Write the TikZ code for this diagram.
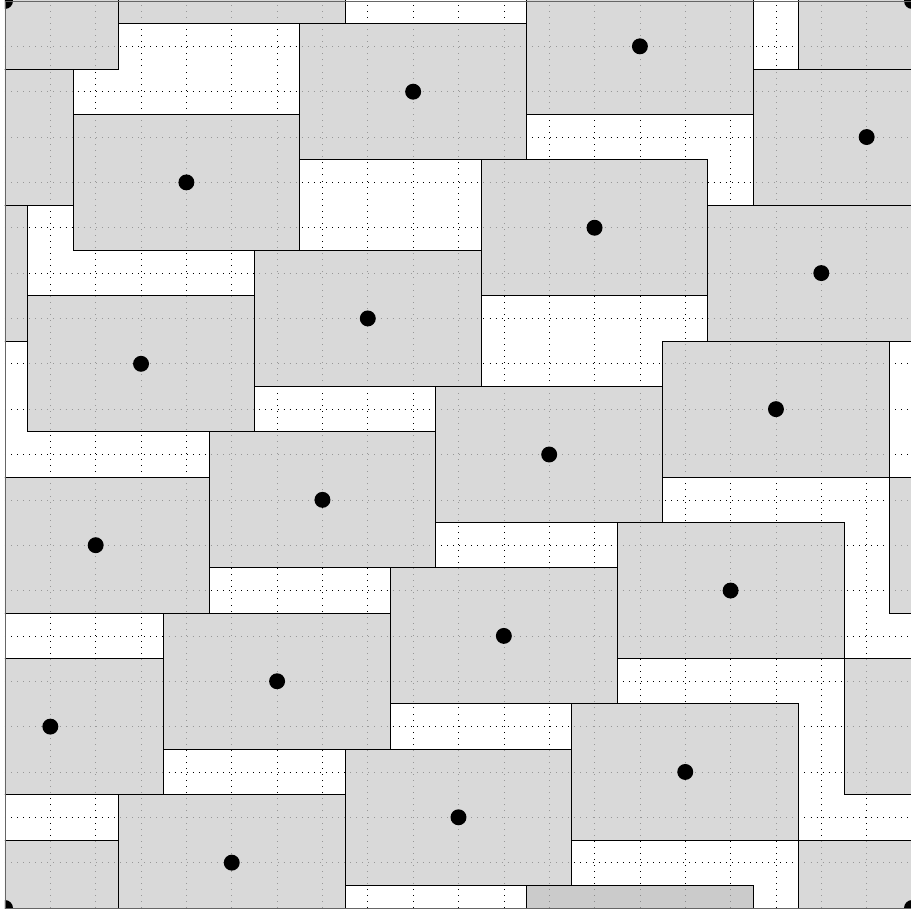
\documentclass[tikz,border=0pt]{standalone}
\begin{document}
\begin{tikzpicture}[
  bloc/.style={draw, semithick, fill=#1, fill opacity=0.75,
               minimum width=5cm, minimum height=3cm, inner sep=0pt,
               path picture={\fill[fill opacity=1, black]
                 (path picture bounding box.center) circle (5pt);}},
  bloc/.default=black!20,
  grille/.style={line width=0.4pt, dash pattern=on 0.4pt off 3.4pt},
  cadre/.style={line width=0.5pt, draw=black!60}
]
  \useasboundingbox (-0.11,-0.11) rectangle (19.956,20.022);

  % Grille pointillée
  \draw[grille] (0,0) grid (20,20);

  \begin{scope}
    \clip (0,0) rectangle (20,20);
    % Blocs 5x3 sur le tore (copies aux bords)
    \node[bloc] (b1)  at (0,20)  {};
    \node[bloc] (b1a) at (20,20) {};
    \node[bloc] (b1b) at (0,0)   {};
    \node[bloc] (b1c) at (20,0)  {};
    \node[bloc] (b2)  at (14,19) {};
    \node[bloc=black!27] (b2a) at (14,-1) {};
    \node[bloc] (b3)  at (9,18)  {};
    \node[bloc] (b4)  at (19,17) {};
    \node[bloc] (b4a) at (-1,17) {};
    \node[bloc] (b5)  at (4,16)  {};
    \node[bloc] (b6)  at (13,15) {};
    \node[bloc] (b7)  at (18,14) {};
    \node[bloc] (b7a) at (-2,14) {};
    \node[bloc] (b8)  at (8,13)  {};
    \node[bloc] (b9)  at (3,12)  {};
    \node[bloc] (b10) at (17,11) {};
    \node[bloc] (b11) at (12,10) {};
    \node[bloc] (b12) at (7,9)   {};
    \node[bloc] (b13) at (2,8)   {};
    \node[bloc] (b13a) at (22,8) {};
    \node[bloc] (b14) at (16,7)  {};
    \node[bloc] (b15) at (11,6)  {};
    \node[bloc] (b16) at (6,5)   {};
    \node[bloc] (b17) at (1,4)   {};
    \node[bloc] (b17a) at (21,4) {};
    \node[bloc] (b18) at (15,3)  {};
    \node[bloc] (b19) at (10,2)  {};
    \node[bloc] (b20) at (5,1)   {};
    \node[bloc] (b20a) at (5,21) {};
  \end{scope}

  % Cadre
  \draw[cadre] (0,0) rectangle (20,20);
\end{tikzpicture}
\end{document}
